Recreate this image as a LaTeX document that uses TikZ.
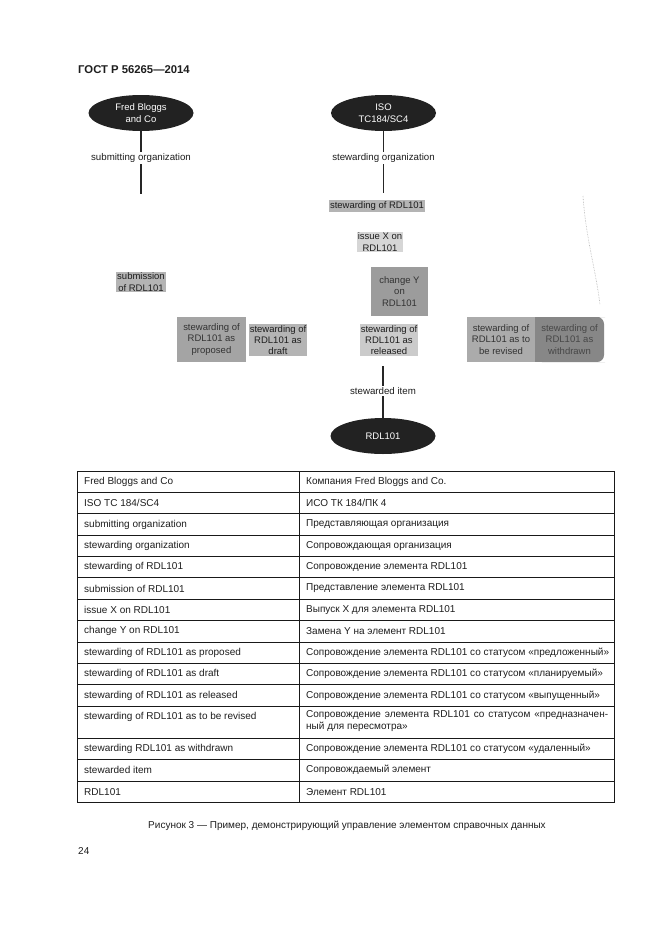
\documentclass[tikz,border=0pt]{standalone}
\usepackage{fontspec}
\setmainfont{Liberation Sans}
\usetikzlibrary{shapes.geometric}
\definecolor{ellfill}{HTML}{222222}
\definecolor{txt}{HTML}{1E1E1E}
\definecolor{boxA}{HTML}{9C9C9C}
\definecolor{boxB}{HTML}{A4A4A4}
\definecolor{boxC}{HTML}{ABABAB}
\definecolor{boxD}{HTML}{878787}
\definecolor{haloc}{HTML}{B4B4B4}
\begin{document}
\begin{tikzpicture}[x=1pt,y=-1pt,
  dark/.style={ellipse, fill=ellfill, text=white, minimum width=105pt, minimum height=36pt, inner sep=0pt, align=center, font=\fontsize{9.5}{11.5}\selectfont},
  lbl/.style={font=\fontsize{9.7}{11.5}\selectfont, align=center, text=txt, inner sep=1.5pt},
  halo/.style={font=\fontsize{9.5}{11.2}\selectfont, align=center, text=txt, fill=haloc, inner sep=1.2pt},
  gbox/.style={font=\fontsize{9.5}{11.2}\selectfont, align=center, text=black!80, minimum height=45pt, inner sep=0pt},
  conn/.style={line width=1.6pt, black!85},
  cell/.style={font=\fontsize{10}{12}\selectfont, anchor=west, text=txt, inner sep=0pt},
  rule/.style={line width=0.8pt, black!90}]
\useasboundingbox (0,0) rectangle (661,935);
\fill[white] (0,0) rectangle (661,935);

\node[anchor=west, font=\bfseries\fontsize{11.3}{13}\selectfont, text=txt, inner sep=0pt] (hdr) at (78,70) {ГОСТ Р 56265—2014};

% organizations
\node[dark] (fred) at (141,113) {Fred Bloggs\\and Co};
\node[lbl] (suborg) at (141,158) {submitting organization};
\coordinate (fredend) at (141,194);
\draw[conn] (fred.south) -- (suborg.north);
\draw[conn] (suborg.south) -- (fredend);

\node[dark] (iso) at (383.5,113) {ISO\\TC184/SC4};
\node[lbl] (steworg) at (383.5,158) {stewarding organization};
\coordinate (isoend) at (383.5,193);
\draw[conn] (iso.south) -- (steworg.north);
\draw[conn] (steworg.south) -- (isoend);

% activities
\node[halo] (stew) at (377,206) {stewarding of RDL101};
\node[halo, fill=haloc!55] (issue) at (380,242) {issue X on\\RDL101};
\node[gbox, fill=boxA, minimum width=57pt, minimum height=49pt] (change) at (399.5,291.5) {change Y\\on\\RDL101};
\node[halo] (subm) at (141,282) {submission\\of RDL101};

\node[gbox, fill=boxB, minimum width=69pt] (prop) at (211.5,339.5) {stewarding of\\RDL101 as\\proposed};
\node[halo] (draft) at (278,340) {stewarding of\\RDL101 as\\draft};
\node[halo, fill=haloc!70] (rel) at (389,340) {stewarding of\\RDL101 as\\released};
\node[gbox, fill=boxC, minimum width=68pt] (rev) at (501,339.5) {stewarding of\\RDL101 as to\\be revised};
\fill[boxD, rounded corners=7pt] (535,317) -- (598,317) -- (604,317) -- (604,362) -- (598,362) -- (535,362) [sharp corners] -- cycle;
\fill[boxD] (535,317) rectangle (560,362);
\node[gbox, text=black!72, minimum width=69pt] (wd) at (569.5,339.5) {stewarding of\\RDL101 as\\withdrawn};

\draw[black!30, densely dotted, line width=0.6pt] (583,196) .. controls (586,240) and (596,270) .. (600,305);

% stewarded item
\coordinate (relend) at (383,366);
\node[lbl] (stitem) at (383,391) {stewarded item};
\node[dark] (rdl) at (383,436) {RDL101};
\draw[conn] (relend) -- (stitem.north);
\draw[conn] (stitem.south) -- (rdl.north);

% table
\def\tl{77}\def\tm{299}\def\tr{614}
\draw[rule] (\tl,471.3) rectangle (\tr,802.7);
\draw[rule] (\tm,471.3) -- (\tm,802.7);
\foreach \y in {492.7,513.7,535.3,556.3,577.7,599.3,620.3,642,663,684.7,706.3,738.7,759.7,781}
  \draw[rule] (\tl,\y) -- (\tr,\y);

\node[cell] (l1) at (84,482) {Fred Bloggs and Co};
\node[cell] (r1) at (306,482) {Компания Fred Bloggs and Co.};
\node[cell] (l2) at (84,503.2) {ISO TC 184/SC4};
\node[cell] (r2) at (306,503.2) {ИСО ТК 184/ПК 4};
\node[cell] (l3) at (84,524.5) {submitting organization};
\node[cell] (r3) at (306,524.5) {Представляющая организация};
\node[cell] (l4) at (84,545.8) {stewarding organization};
\node[cell] (r4) at (306,545.8) {Сопровождающая организация};
\node[cell] (l5) at (84,567) {stewarding of RDL101};
\node[cell] (r5) at (306,567) {Сопровождение элемента RDL101};
\node[cell] (l6) at (84,588.5) {submission of RDL101};
\node[cell] (r6) at (306,588.5) {Представление элемента RDL101};
\node[cell] (l7) at (84,609.8) {issue X on RDL101};
\node[cell] (r7) at (306,609.8) {Выпуск X для элемента RDL101};
\node[cell] (l8) at (84,631.2) {change Y on RDL101};
\node[cell] (r8) at (306,631.2) {Замена Y на элемент RDL101};
\node[cell] (l9) at (84,652.5) {stewarding of RDL101 as proposed};
\node[cell] (r9) at (306,652.5) {Сопровождение элемента RDL101 со статусом «предложенный»};
\node[cell] (l10) at (84,673.8) {stewarding of RDL101 as draft};
\node[cell] (r10) at (306,673.8) {Сопровождение элемента RDL101 со статусом «планируемый»};
\node[cell] (l11) at (84,695.5) {stewarding of RDL101 as released};
\node[cell] (r11) at (306,695.5) {Сопровождение элемента RDL101 со статусом «выпущенный»};
\node[cell] (l12) at (84,717) {stewarding of RDL101 as to be revised};
\node[cell, anchor=north west] (r12) at (306,710.5) {\begin{minipage}{302pt}\fontsize{10}{12.3}\selectfont\hbox to 302pt{Сопровождение\hfil\ элемента\hfil\ RDL101\hfil\ со\hfil\ статусом\hfil\ «предназначен-}\par\noindent ный для пересмотра»\end{minipage}};
\node[cell] (l13) at (84,749.2) {stewarding RDL101 as withdrawn};
\node[cell] (r13) at (306,749.2) {Сопровождение элемента RDL101 со статусом «удаленный»};
\node[cell] (l14) at (84,770.3) {stewarded item};
\node[cell] (r14) at (306,770.3) {Сопровождаемый элемент};
\node[cell] (l15) at (84,792) {RDL101};
\node[cell] (r15) at (306,792) {Элемент RDL101};

\node[font=\fontsize{10}{12}\selectfont, text=txt, inner sep=0pt] (cap) at (347,826) {Рисунок 3 — Пример, демонстрирующий управление элементом справочных данных};
\node[anchor=west, font=\fontsize{10}{12}\selectfont, text=txt, inner sep=0pt] (pg) at (78,851) {24};
\end{tikzpicture}
\end{document}
